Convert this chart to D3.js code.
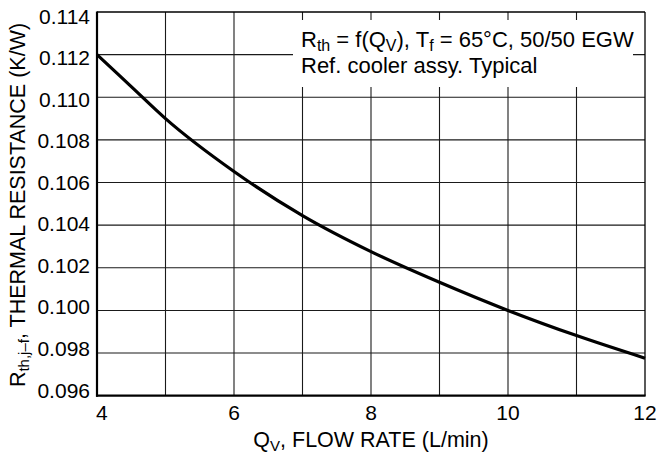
<!DOCTYPE html>
<html><head><meta charset="utf-8">
<script src="https://cdn.jsdelivr.net/npm/d3@7"></script>
<style>body{margin:0;background:#fff}svg{display:block}text{font-family:"Liberation Sans",Arial,Helvetica,sans-serif;fill:#000}</style>
</head><body>
<svg id="c" width="659" height="468"></svg>
<script>
const flowRate = [4, 4.5, 5, 6, 7, 8, 9, 10, 11, 12];
const rth = [0.1120, 0.1105, 0.1090, 0.10652, 0.10445, 0.10276, 0.10132, 0.1000, 0.09882, 0.09776];
const xTicks = [4, 5, 6, 7, 8, 9, 10, 11, 12];
const xTickLabels = ["4", "", "6", "", "8", "", "10", "", "12"];
const yTicks = [0.096, 0.098, 0.100, 0.102, 0.104, 0.106, 0.108, 0.110, 0.112, 0.114];
const yTickLabels = ["0.096", "0.098", "0.100", "0.102", "0.104", "0.106", "0.108", "0.110", "0.112", "0.114"];

const svg = d3.select("#c");
const L = 97, R = 645, T = 12, B = 395.7;
const x = d3.scaleLinear().domain([4, 12]).range([L, R]);
const y = d3.scaleLinear().domain([0.096, 0.114]).range([B, T]);
const yLab = d3.scaleLinear().domain([0.096, 0.114]).range([390, 16]);
const FS = 21, SUB = 15;

// grid
const g = svg.append("g");
g.selectAll(".vx").data(xTicks.slice(1, -1)).join("line")
  .attr("x1", d => x(d)).attr("x2", d => x(d)).attr("y1", T).attr("y2", B)
  .attr("stroke", "#1a1a1a").attr("stroke-width", 1.1);
g.selectAll(".hy").data(yTicks.slice(1, -1)).join("line")
  .attr("x1", L).attr("x2", R).attr("y1", d => y(d)).attr("y2", d => y(d))
  .attr("stroke", "#1a1a1a").attr("stroke-width", 1.1);

// annotation box (white, covers grid)
svg.append("rect").attr("x", 293).attr("y", 20).attr("width", 340).attr("height", 67).attr("fill", "#fff");

// frame
svg.append("line").attr("x1", L).attr("x2", R).attr("y1", T).attr("y2", T).attr("stroke", "#000").attr("stroke-width", 1.3);
svg.append("line").attr("x1", R).attr("x2", R).attr("y1", T).attr("y2", B).attr("stroke", "#000").attr("stroke-width", 1.3);
svg.append("line").attr("x1", L).attr("x2", L).attr("y1", T - 0.6).attr("y2", B + 1).attr("stroke", "#000").attr("stroke-width", 2.2);
svg.append("line").attr("x1", L - 1).attr("x2", R + 0.6).attr("y1", B).attr("y2", B).attr("stroke", "#000").attr("stroke-width", 2.2);

// curve
const line = d3.line().x((d, i) => x(flowRate[i])).y(d => y(d)).curve(d3.curveMonotoneX);
svg.append("path").datum(rth).attr("d", line).attr("fill", "none").attr("stroke", "#000").attr("stroke-width", 3.2);

// x tick labels
svg.selectAll(".xt").data(xTicks).join("text")
  .attr("x", (d, i) => i === 0 ? x(d) - 1 : x(d))
  .attr("y", 420).attr("text-anchor", (d, i) => i === 0 ? "start" : "middle")
  .attr("font-size", FS).text((d, i) => xTickLabels[i]);

// y tick labels
svg.selectAll(".yt").data(yTicks).join("text")
  .attr("x", 90).attr("y", d => yLab(d)).attr("dy", "0.36em").attr("text-anchor", "end")
  .attr("font-size", FS).text((d, i) => yTickLabels[i]);

// x axis title
const xt = svg.append("text").attr("x", 371).attr("y", 447).attr("text-anchor", "middle").attr("font-size", 21.5);
xt.append("tspan").text("Q");
xt.append("tspan").attr("font-size", SUB).attr("dy", 4).text("V");
xt.append("tspan").attr("dy", -4).text(", FLOW RATE (L/min)");

// y axis title
const yt = svg.append("text").attr("transform", "translate(25,205) rotate(-90)").attr("text-anchor", "middle").attr("font-size", 21.5);
yt.append("tspan").text("R");
yt.append("tspan").attr("font-size", SUB).attr("dy", 4).text("th,j–f");
yt.append("tspan").attr("dy", -4).text(", THERMAL RESISTANCE (K/W)");

// annotation
const AF = 22;
const a1 = svg.append("text").attr("x", 301).attr("y", 47).attr("font-size", AF);
a1.append("tspan").text("R");
a1.append("tspan").attr("font-size", SUB + 1).attr("dy", 4).text("th");
a1.append("tspan").attr("dy", -4).text(" = f(Q");
a1.append("tspan").attr("font-size", SUB + 1).attr("dy", 4).text("V");
a1.append("tspan").attr("dy", -4).text("), T");
a1.append("tspan").attr("font-size", SUB + 1).attr("dy", 4).text("f");
a1.append("tspan").attr("dy", -4).text(" = 65°C, 50/50 EGW");
svg.append("text").attr("x", 301).attr("y", 73).attr("font-size", AF).text("Ref. cooler assy. Typical");
</script>
</body></html>
